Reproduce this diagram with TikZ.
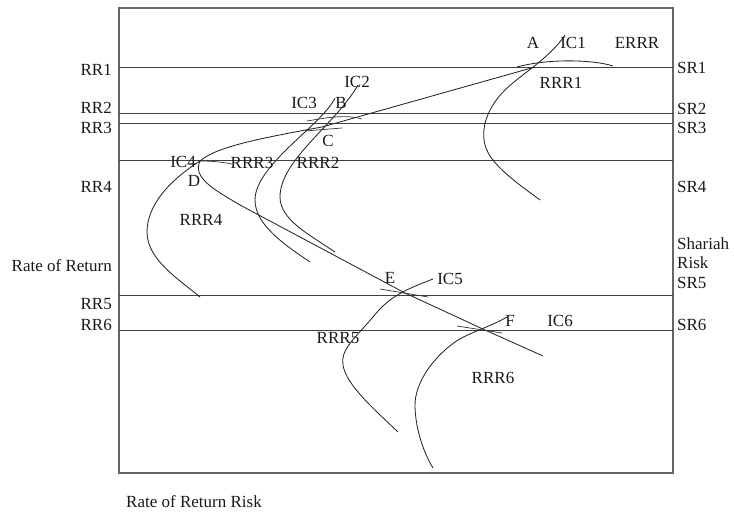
\documentclass[tikz,border=0pt]{standalone}
\usepackage{fontspec}
\setmainfont{Liberation Serif}
\begin{document}
\begin{tikzpicture}[x=1pt,y=-1pt,
  lbl/.style={font=\fontsize{17}{20}\selectfont, inner sep=0pt, text=black!90},
  frame/.style={draw=black!60, line width=1.3pt},
  level/.style={draw=black!75, line width=0.9pt},
  crv/.style={draw=black!85, line width=0.85pt},
  tick/.style={draw=black!80, line width=0.7pt}]
\useasboundingbox (0,0) rectangle (734,512);
% frame
\draw[frame] (119,8) rectangle (673,473);
% level lines
\coordinate (l1) at (119,67);  \coordinate (r1) at (673,67);
\coordinate (l2) at (119,113); \coordinate (r2) at (673,113);
\coordinate (l3) at (119,123); \coordinate (r3) at (673,123);
\coordinate (l4) at (119,160); \coordinate (r4) at (673,160);
\coordinate (l5) at (119,295); \coordinate (r5) at (673,295);
\coordinate (l6) at (119,330); \coordinate (r6) at (673,330);
\draw[level] (l1) -- (r1);
\draw[level] (l2) -- (r2);
\draw[level] (l3) -- (r3);
\draw[level] (l4) -- (r4);
\draw[level] (l5) -- (r5);
\draw[level] (l6) -- (r6);
% key points
\coordinate (pA) at (535,67);
\coordinate (pC) at (322,127);
\coordinate (pD) at (200,161);
\coordinate (pE) at (405,293);
\coordinate (pF) at (485,330);
\coordinate (endEF) at (543,356);
% return-risk line D - C - A
\draw[crv] (pD) .. controls (215,148) and (250,140) .. (pC) -- (pA);
% ERRR arc
\draw[crv] (517,67) .. controls (550,58) and (595,60) .. (613,66);
% D - E - F line
\draw[crv] (pD) .. controls (192,178) and (215,190) .. (240,205) -- (pE) -- (pF) -- (endEF);
% IC1
\draw[crv] (565,35) .. controls (550,58) and (520,75) .. (505,90)
  .. controls (490,105) and (480,125) .. (485,145)
  .. controls (490,165) and (520,185) .. (540,200);
% IC2
\draw[crv] (358,85) .. controls (335,125) and (280,160) .. (280,197)
  .. controls (280,220) and (310,235) .. (335,252);
% IC3
\draw[crv] (335,98) .. controls (322,125) and (255,165) .. (255,200)
  .. controls (255,225) and (285,245) .. (310,262);
% IC4
\draw[crv] (pD) .. controls (170,180) and (147,205) .. (147,232)
  .. controls (147,260) and (180,280) .. (200,297);
% IC5
\draw[crv] (433,279) .. controls (410,288) and (390,295) .. (373,317)
  .. controls (355,338) and (340,350) .. (343,365)
  .. controls (346,385) and (375,410) .. (398,432);
% IC6
\draw[crv] (507,317) .. controls (490,327) and (470,332) .. (455,342)
  .. controls (430,360) and (415,385) .. (415,405)
  .. controls (415,425) and (422,450) .. (433,468);
% tangent ticks
\draw[tick] (307,121) .. controls (325,118) and (345,114) .. (362,119);
\draw[tick] (305,131) -- (342,128);
\draw[tick] (pD) .. controls (212,161) and (222,162) .. (232,164);
\draw[tick] (380,289) -- (428,297);
\draw[tick] (457,326) -- (502,333);
% left labels
\node[lbl, anchor=east] (tRR1) at (112,70) {RR1};
\node[lbl, anchor=east] (tRR2) at (112,108) {RR2};
\node[lbl, anchor=east] (tRR3) at (112,128) {RR3};
\node[lbl, anchor=east] (tRR4) at (112,187) {RR4};
\node[lbl, anchor=east] (tRoR) at (112,266) {Rate of Return};
\node[lbl, anchor=east] (tRR5) at (112,304) {RR5};
\node[lbl, anchor=east] (tRR6) at (112,325) {RR6};
% right labels
\node[lbl, anchor=west] (tSR1) at (677,68) {SR1};
\node[lbl, anchor=west] (tSR2) at (677,109) {SR2};
\node[lbl, anchor=west] (tSR3) at (677,128) {SR3};
\node[lbl, anchor=west] (tSR4) at (677,187) {SR4};
\node[lbl, anchor=west] (tSh) at (677,244) {Shariah};
\node[lbl, anchor=west] (tRisk) at (677,263) {Risk};
\node[lbl, anchor=west] (tSR5) at (677,283) {SR5};
\node[lbl, anchor=west] (tSR6) at (677,325) {SR6};
% curve labels
\node[lbl] (tA) at (533,43) {A};
\node[lbl] (tIC1) at (573,43) {IC1};
\node[lbl] (tERRR) at (637,43) {ERRR};
\node[lbl] (tRRR1) at (561,83) {RRR1};
\node[lbl] (tIC2) at (357,82) {IC2};
\node[lbl] (tIC3) at (304,103) {IC3};
\node[lbl] (tB) at (341,103) {B};
\node[lbl] (tC) at (328,141) {C};
\node[lbl] (tRRR2) at (318,163) {RRR2};
\node[lbl] (tRRR3) at (252,163) {RRR3};
\node[lbl] (tIC4) at (183,162) {IC4};
\node[lbl] (tD) at (194,181) {D};
\node[lbl] (tRRR4) at (201,220) {RRR4};
\node[lbl] (tE) at (390,278) {E};
\node[lbl] (tIC5) at (450,279) {IC5};
\node[lbl] (tF) at (510,321) {F};
\node[lbl] (tIC6) at (560,321) {IC6};
\node[lbl] (tRRR5) at (338,338) {RRR5};
\node[lbl] (tRRR6) at (493,378) {RRR6};
\node[lbl] (tRRR) at (194,502) {Rate of Return Risk};
\end{tikzpicture}
\end{document}
